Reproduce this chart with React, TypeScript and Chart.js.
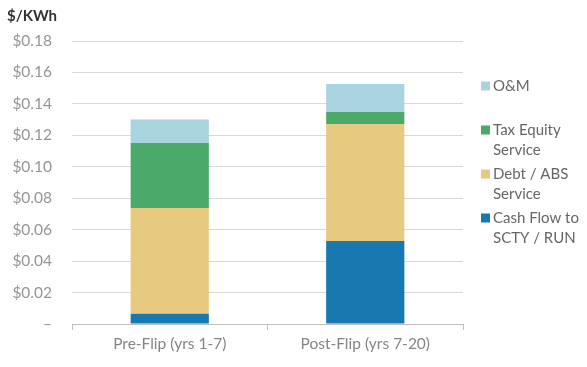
import React, { useEffect, useRef } from "react";
import { Chart, registerables } from "chart.js";

Chart.register(...registerables);

const categories = ["Pre-Flip (yrs 1-7)", "Post-Flip (yrs 7-20)"];
const cashFlow = [0.0065, 0.0528];
const debtAbs = [0.0673, 0.0744];
const taxEquity = [0.0413, 0.0077];
const oAndM = [0.0149, 0.0178];
const seriesNames = ["Cash Flow to SCTY / RUN", "Debt / ABS Service", "Tax Equity Service", "O&M"];
const legendLines = [["Cash Flow to", "SCTY / RUN"], ["Debt / ABS", "Service"], ["Tax Equity", "Service"], ["O&M"]];
const seriesColors = ["#1878B0", "#E8C980", "#4BAA69", "#A8D4E0"];
const yMax = 0.18;
const yStep = 0.02;
const zeroLabel = "–";
const unitTitle = "$/KWh";

const FONT = "Lato, 'Open Sans', sans-serif";

const overlay = {
  id: "overlay",
  afterDraw(chart: any) {
    const ctx = chart.ctx;
    ctx.save();
    ctx.fillStyle = "#333333";
    ctx.font = `bold 15px ${FONT}`;
    ctx.textBaseline = "middle";
    ctx.textAlign = "left";
    ctx.fillText(unitTitle, 7, 16);

    const x0 = 481;
    let y = 86;
    ctx.font = `15px ${FONT}`;
    for (let i = chart.data.datasets.length - 1; i >= 0; i--) {
      const lines = legendLines[i];
      ctx.fillStyle = seriesColors[i];
      ctx.fillRect(x0, y - 4.5, 9, 9);
      ctx.fillStyle = "#666666";
      lines.forEach((ln: string, k: number) => {
        ctx.fillText(ln, x0 + 12, y + k * 20);
      });
      y += 44;
    }
    ctx.restore();
  },
};

export default function App() {
  const ref = useRef<HTMLCanvasElement>(null);
  useEffect(() => {
    const data = [cashFlow, debtAbs, taxEquity, oAndM];
    const chart = new Chart(ref.current!, {
      type: "bar",
      data: {
        labels: categories,
        datasets: data.map((d, i) => ({
          label: seriesNames[i],
          data: d,
          backgroundColor: seriesColors[i],
          borderWidth: 0,
          categoryPercentage: 1,
          barPercentage: 0.4,
        })),
      },
      options: {
        animation: false,
        responsive: false,
        maintainAspectRatio: false,
        layout: { padding: { left: 0, right: 124, top: 41, bottom: 0 } },
        plugins: { legend: { display: false }, tooltip: { enabled: false }, title: { display: false } },
        scales: {
          x: {
            stacked: true,
            afterFit: (s: any) => { s.height = 43; },
            grid: { drawOnChartArea: false, drawTicks: true, tickLength: 6, color: "#BFBFBF", offset: true },
            border: { color: "#BFBFBF" },
            ticks: { color: "#858585", font: { family: FONT, size: 15.5 }, padding: 5 },
          },
          y: {
            stacked: true,
            min: 0,
            max: yMax,
            afterFit: (s: any) => { s.width = 72; },
            grid: { color: "#D9D9D9", drawTicks: false },
            border: { display: false },
            ticks: {
              stepSize: yStep,
              padding: 20,
              color: "#959595",
              font: { family: FONT, size: 15.5 },
              callback: (v: any) => (Math.abs(v) < 1e-9 ? zeroLabel : "$" + Number(v).toFixed(2)),
            },
          },
        },
      },
      plugins: [overlay],
    });
    return () => chart.destroy();
  }, []);
  return (
    <div style={{ position: "fixed", left: 0, top: 0, width: 587, height: 367, background: "#fff" }}>
      <canvas ref={ref} width={587} height={367} style={{ width: 587, height: 367 }} />
    </div>
  );
}
